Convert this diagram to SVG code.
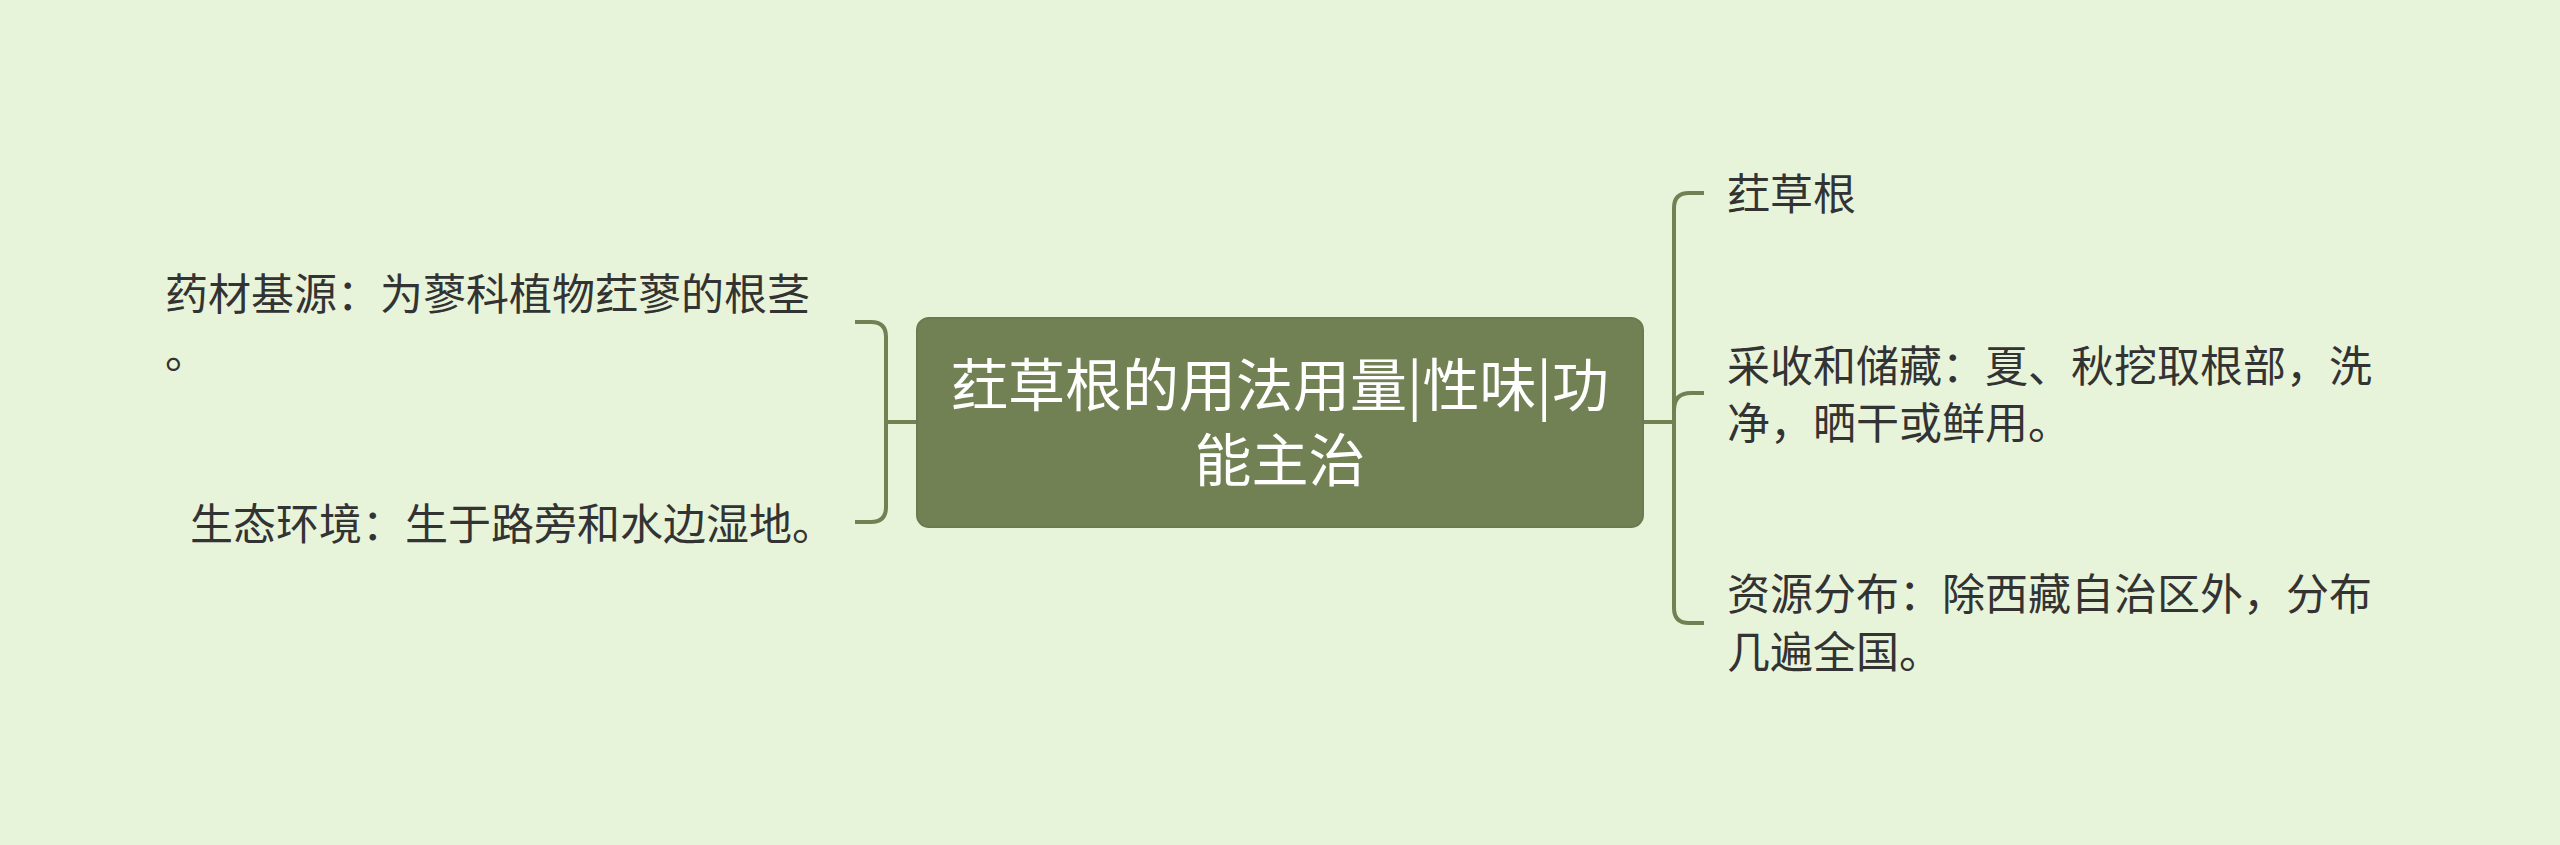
<svg xmlns="http://www.w3.org/2000/svg" width="2560" height="845" viewBox="0 0 2560 845">
<style>
.bg{fill:#e8f4da}
.line{fill:none;stroke:#718153;stroke-width:4;stroke-linecap:butt}
.root{fill:#718153;stroke:#6b7b4e;stroke-width:2}
.rt{font-family:"Noto Sans CJK SC","Noto Sans",sans-serif;font-size:57px;fill:#ffffff;text-anchor:middle}
.t{font-family:"Noto Sans CJK SC","Noto Sans",sans-serif;font-size:43px;fill:#333333}
</style>
<rect class="bg" x="0" y="0" width="2560" height="845"/>
<g id="connectors">
<path class="line" d="M855,322 H871 Q886,322 886,337 V507 Q886,522 871,522 H855"/>
<path class="line" d="M886,422 H917"/>
<path class="line" d="M1704,193 H1689 Q1674,193 1674,208 V608 Q1674,623 1689,623 H1704"/>
<path class="line" d="M1674,410 Q1674,393 1691,393 H1704"/>
<path class="line" d="M1643,422 H1674"/>
</g>
<g id="root">
<rect class="root" x="917" y="318" width="726" height="209" rx="12"/>
<text class="rt" x="1280" y="406">荭草根的用法用量|性味|功</text>
<text class="rt" x="1280" y="481">能主治</text>
</g>
<g id="n-source">
<text class="t" x="165" y="310">药材基源：为蓼科植物荭蓼的根茎</text>
<text class="t" x="165" y="368">。</text>
</g>
<g id="n-habitat">
<text class="t" x="190" y="540">生态环境：生于路旁和水边湿地。</text>
</g>
<g id="n-name">
<text class="t" x="1727" y="210">荭草根</text>
</g>
<g id="n-harvest">
<text class="t" x="1727" y="382">采收和储藏：夏、秋挖取根部，洗</text>
<text class="t" x="1727" y="439">净，晒干或鲜用。</text>
</g>
<g id="n-distribution">
<text class="t" x="1727" y="610">资源分布：除西藏自治区外，分布</text>
<text class="t" x="1727" y="668">几遍全国。</text>
</g>
</svg>
